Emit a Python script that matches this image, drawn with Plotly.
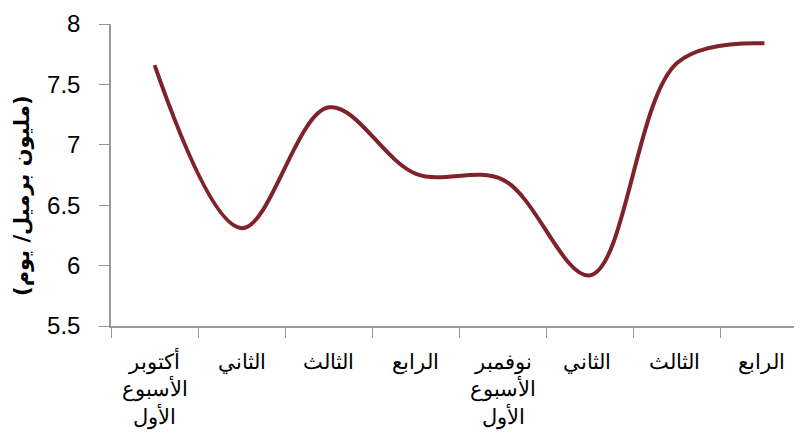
import plotly.graph_objects as go

categories = ["أكتوبر<br>الأسبوع<br>الأول", "الثاني", "الثالث", "الرابع",
              "نوفمبر<br>الأسبوع<br>الأول", "الثاني ", "الثالث ", "الرابع "]
values = [7.66, 6.31, 7.31, 6.76, 6.71, 5.92, 7.68, 7.84]
y_ticks = [5.5, 6, 6.5, 7, 7.5, 8]
y_tick_text = ["5.5", "6", "6.5", "7", "7.5", "8"]
y_title = "<b>(مليون برميل/ يوم)</b>"

fig = go.Figure(go.Scatter(
    x=categories, y=values, mode="lines",
    line=dict(color="#7F222A", width=4, shape="spline", smoothing=1.0),
    hoverinfo="skip"))

fig.update_layout(
    width=802, height=441,
    margin=dict(l=103, r=2, t=13.7, b=123),
    paper_bgcolor="white", plot_bgcolor="white",
    showlegend=False,
    font=dict(family="Liberation Sans, Arial", color="black"),
    annotations=[dict(text=y_title, xref="paper", yref="paper",
                      x=-0.128, y=0.43, xanchor="center", yanchor="middle",
                      textangle=-90, showarrow=False,
                      font=dict(size=21, family="DejaVu Sans", color="black"))],
)
fig.update_xaxes(
    type="category", range=[-0.5, 7.5],
    showline=True, linecolor="#999999", linewidth=1.5,
    ticks="outside", tickson="boundaries", ticklen=10, tickcolor="#999999",
    showgrid=False, zeroline=False,
    tickfont=dict(size=21, family="Liberation Sans, Arial"),
    ticklabelstandoff=16,
)
fig.update_yaxes(
    range=[5.5, 8], tickvals=y_ticks, ticktext=y_tick_text,
    showline=True, linecolor="#999999", linewidth=1.5,
    ticks="outside", ticklen=10, tickcolor="#999999",
    showgrid=False, zeroline=False,
    tickfont=dict(size=24, family="Liberation Sans, Arial"),
    ticklabelstandoff=14,
)

fig.write_html("out.html")
